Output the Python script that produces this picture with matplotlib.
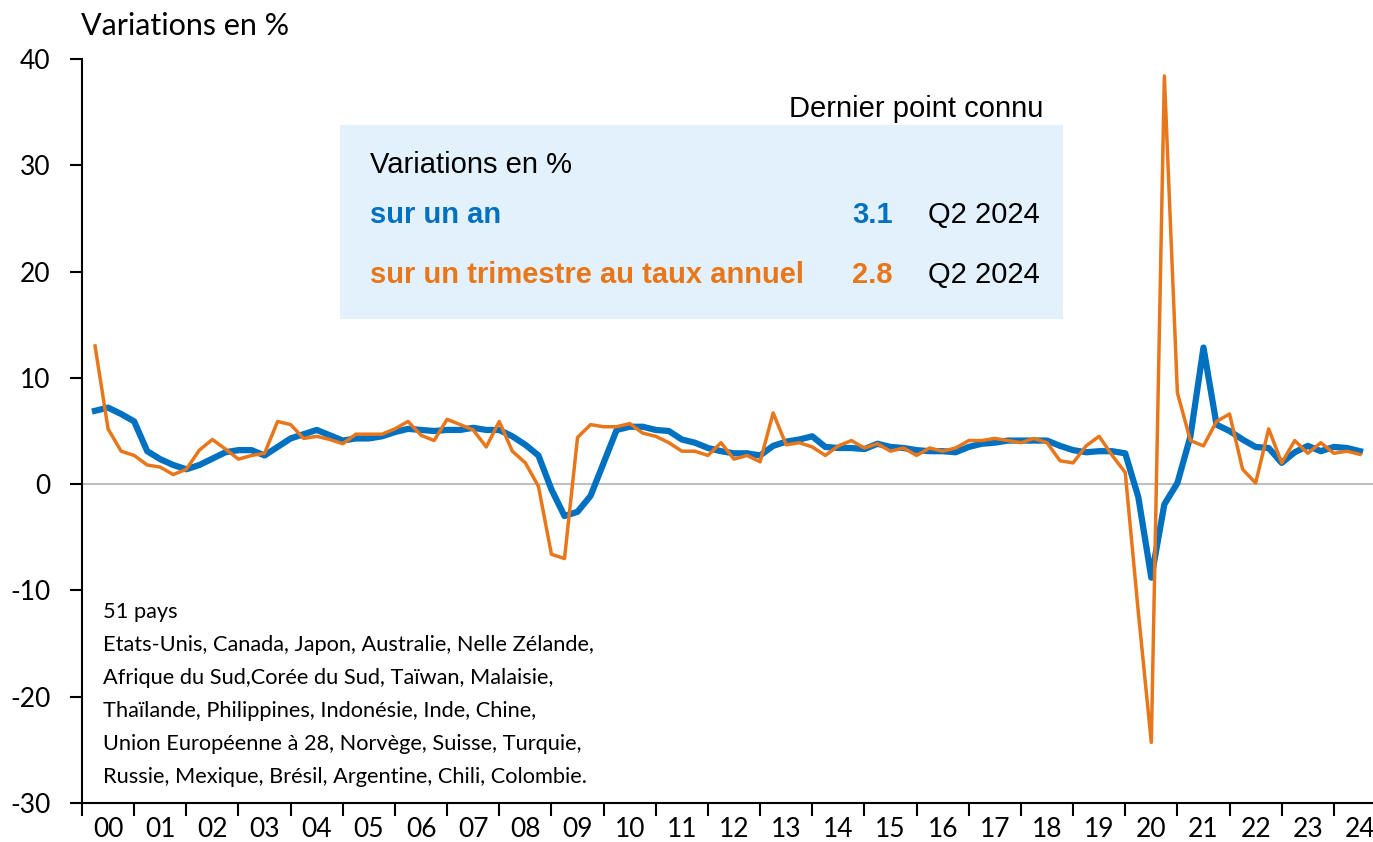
import numpy as np
import matplotlib
matplotlib.use("Agg")
import matplotlib.pyplot as plt
from matplotlib.patches import Rectangle

# ---------------- data (2000Q1 .. 2024Q2) ----------------
yoy = [6.9, 7.2, 6.6, 5.9,
       3.1, 2.35, 1.8, 1.4,
       1.8, 2.4, 3.0, 3.2,
       3.2, 2.7, 3.5, 4.3,
       4.7, 5.1, 4.6, 4.1,
       4.3, 4.3, 4.5, 4.9,
       5.2, 5.1, 5.0, 5.1,
       5.1, 5.3, 5.1, 5.1,
       4.5, 3.7, 2.7, -0.5,
       -3.0, -2.6, -1.1, 2.0,
       5.1, 5.4, 5.4, 5.1,
       5.0, 4.2, 3.9, 3.4,
       3.1, 2.9, 2.9, 2.7,
       3.6, 4.0, 4.2, 4.5,
       3.5, 3.4, 3.4, 3.3,
       3.8, 3.5, 3.4, 3.2,
       3.1, 3.1, 3.0, 3.5,
       3.8, 3.9, 4.1, 4.1,
       4.1, 4.1, 3.6, 3.2,
       3.0, 3.1, 3.1, 2.9,
       -1.2, -8.8, -1.9, 0.1,
       4.5, 12.85, 5.6, 5.0,
       4.2, 3.5, 3.4, 2.0,
       3.0, 3.6, 3.1, 3.5,
       3.4, 3.1]
qoq_ann = [13.0, 5.2, 3.1, 2.7,
           1.8, 1.6, 0.9, 1.4,
           3.2, 4.2, 3.3, 2.35,
           2.7, 2.9, 5.9, 5.6,
           4.3, 4.5, 4.2, 3.8,
           4.7, 4.7, 4.7, 5.2,
           5.9, 4.6, 4.1, 6.1,
           5.6, 5.1, 3.5, 5.9,
           3.1, 2.0, -0.2, -6.6,
           -7.0, 4.4, 5.6, 5.4,
           5.4, 5.7, 4.8, 4.5,
           3.9, 3.1, 3.1, 2.7,
           3.9, 2.35, 2.7, 2.1,
           6.7, 3.7, 3.9, 3.5,
           2.7, 3.6, 4.1, 3.4,
           3.8, 3.1, 3.4, 2.7,
           3.4, 3.1, 3.4, 4.1,
           4.1, 4.3, 4.1, 3.9,
           4.3, 3.9, 2.2, 2.0,
           3.6, 4.5, 2.7, 1.1,
           -12.0, -24.3, 38.4, 8.6,
           4.1, 3.6, 5.9, 6.6,
           1.4, 0.1, 5.2, 2.0,
           4.1, 2.9, 3.9, 2.9,
           3.1, 2.8]
first_year = 2000
years = list(range(2000, 2025))
year_labels = [f"{y % 100:02d}" for y in years]
yticks = [-30, -20, -10, 0, 10, 20, 30, 40]

box_title = "Variations en %"
row_labels = ["sur un an", "sur un trimestre au taux annuel"]
row_values = ["3.1", "2.8"]
row_dates = ["Q2 2024", "Q2 2024"]
footnote = ["51 pays",
            "Etats-Unis, Canada, Japon, Australie, Nelle Zélande,",
            "Afrique du Sud,Corée du Sud, Taïwan, Malaisie,",
            "Thaïlande, Philippines, Indonésie, Inde, Chine,",
            "Union Européenne à 28, Norvège, Suisse, Turquie,",
            "Russie, Mexique, Brésil, Argentine, Chili, Colombie."]

BLUE = "#0070C0"
ORANGE = "#E8761A"
BOXC = "#E3F1FC"

W, H = 1373, 842
fig = plt.figure(figsize=(W / 100, H / 100), dpi=100)
L, R, T, B = 82, 1373, 59, 803
ax = fig.add_axes([L / W, 1 - B / H, (R - L) / W, (B - T) / H])

x = first_year + np.arange(1, len(yoy) + 1) / 4.0
ax.axhline(0, color="#BFBFBF", lw=1.5, zorder=1)
ax.plot(x, yoy, color=BLUE, lw=4.5, zorder=2, solid_joinstyle="round")
ax.plot(x, qoq_ann, color=ORANGE, lw=2.5, zorder=3, solid_joinstyle="round")

ax.set_xlim(2000, 2024.75)
ax.set_ylim(-30, 40)
for s in ["top", "right"]:
    ax.spines[s].set_visible(False)
for s in ["left", "bottom"]:
    ax.spines[s].set_linewidth(1.5)

ax.set_yticks(yticks)
ax.set_yticklabels([str(v) for v in yticks], family=["Lato", "DejaVu Sans"], fontsize=19)
ax.tick_params(axis="y", direction="out", length=8.5, width=1.5, pad=14)

ax.set_xticks(years)
ax.set_xticklabels([])
ax.set_xticks([y + 0.5 for y in years], minor=True)
ax.set_xticklabels(year_labels, minor=True,
                   family=["Liberation Sans Narrow", "Lato"], fontsize=19)
ax.tick_params(axis="x", which="major", direction="out", length=9.5, width=1.5)
ax.tick_params(axis="x", which="minor", length=0, pad=10)


def fx(px):
    return px / W


def fy(py):
    return 1 - py / H


fig.text(fx(81), fy(35), "Variations en %", family=["Lato", "DejaVu Sans"],
         fontsize=22, va="baseline", ha="left")

# info box
fig.patches.append(Rectangle((fx(340), fy(319)), (1063 - 340) / W, (319 - 125) / H,
                             transform=fig.transFigure, facecolor=BOXC,
                             edgecolor="none", zorder=0))
arial = ["Liberation Sans", "DejaVu Sans"]
FS = 21
fig.text(fx(1043), fy(117), "Dernier point connu", family=arial, fontsize=FS,
         ha="right", va="baseline")
fig.text(fx(370), fy(173), box_title, family=arial, fontsize=FS,
         ha="left", va="baseline")
colors = [BLUE, ORANGE]
for i, base in enumerate([223, 283]):
    fig.text(fx(370), fy(base), row_labels[i], family=arial, fontsize=FS,
             weight="bold", color=colors[i], ha="left", va="baseline")
    fig.text(fx(852), fy(base), row_values[i], family=arial, fontsize=FS,
             weight="bold", color=colors[i], ha="left", va="baseline")
    fig.text(fx(928), fy(base), row_dates[i], family=arial, fontsize=FS,
             color="black", ha="left", va="baseline")

for i, line in enumerate(footnote):
    fig.text(fx(103), fy(618 + i * 33), line, family=["Lato", "DejaVu Sans"],
             fontsize=15.7, ha="left", va="baseline")

fig.savefig("out.png", dpi=100)
